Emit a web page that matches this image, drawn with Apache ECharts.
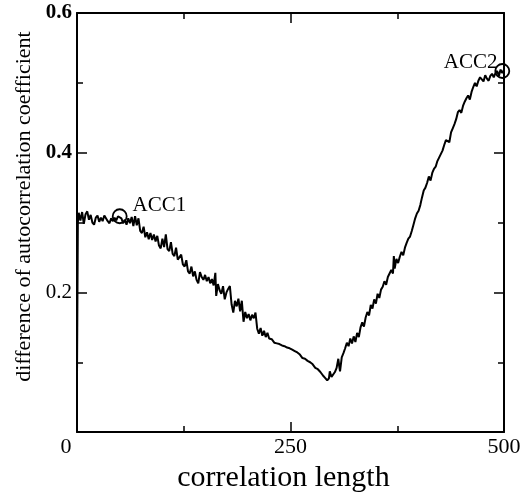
<!DOCTYPE html>
<html>
<head>
<meta charset="utf-8">
<script src="https://cdn.jsdelivr.net/npm/echarts@6/dist/echarts.min.js"></script>
<style>html,body{margin:0;padding:0;background:#fff}#c{width:531px;height:498px}</style>
</head>
<body>
<div id="c"></div>
<script>
// correlation length
const xValues = [0,1,2,4,6,8,10,12,14,16,18,20,22,24,26,28,30,32,34,36,38,40,42,44,46,48,50,52,54,56,58,60,62,64,66,68,70,72,74,76,78,80,82,84,86,88,90,92,94,96,98,100,102,104,106,108,110,112,114,116,118,120,122,124,126,128,130,132,134,136,138,140,142,144,146,148,150,152,154,156,158,160,162,163,165,167,169,171,173,175,177,179,181,183,185,187,189,191,193,195,197,199,201,203,205,207,209,211,213,215,217,219,221,223,225,228,231,234,237,240,243,246,249,252,255,258,261,264,267,270,273,276,279,282,285,288,291,293,295,296,298,300,302,304,306,307,308,310,312,314,316,318,320,322,324,326,328,330,332,334,336,338,340,342,344,346,348,350,352,354,356,358,360,362,364,366,368,370,371,372,374,376,378,380,382,384,386,388,390,392,394,396,398,400,402,404,406,408,410,412,414,416,418,420,422,424,426,428,430,432,434,436,438,440,442,444,446,448,450,452,454,456,458,460,462,464,466,468,470,472,474,476,478,480,482,484,486,488,490,492,494,496,498,500];
// difference of autocorrelation coefficient
const yValues = [0.08,0.30,0.314,0.303,0.315,0.298,0.312,0.316,0.304,0.311,0.300,0.297,0.307,0.310,0.301,0.307,0.302,0.310,0.312,0.302,0.299,0.306,0.302,0.307,0.303,0.309,0.307,0.306,0.299,0.304,0.297,0.306,0.299,0.308,0.295,0.309,0.296,0.306,0.288,0.285,0.294,0.279,0.286,0.276,0.285,0.275,0.283,0.273,0.281,0.267,0.263,0.277,0.265,0.283,0.262,0.259,0.272,0.255,0.252,0.264,0.247,0.245,0.254,0.240,0.237,0.246,0.230,0.227,0.237,0.223,0.230,0.218,0.213,0.229,0.222,0.218,0.225,0.216,0.222,0.213,0.219,0.210,0.228,0.195,0.212,0.203,0.198,0.209,0.190,0.200,0.205,0.209,0.183,0.171,0.188,0.180,0.191,0.173,0.188,0.158,0.172,0.163,0.169,0.160,0.168,0.163,0.171,0.148,0.141,0.149,0.138,0.145,0.136,0.142,0.134,0.133,0.128,0.127,0.126,0.124,0.123,0.121,0.120,0.118,0.116,0.114,0.111,0.106,0.105,0.102,0.100,0.097,0.092,0.090,0.086,0.081,0.077,0.074,0.077,0.087,0.079,0.078,0.086,0.092,0.105,0.095,0.087,0.107,0.113,0.120,0.128,0.123,0.134,0.127,0.137,0.129,0.142,0.136,0.150,0.157,0.151,0.164,0.172,0.167,0.182,0.177,0.190,0.184,0.198,0.192,0.204,0.208,0.216,0.211,0.222,0.221,0.232,0.227,0.252,0.234,0.248,0.242,0.251,0.258,0.253,0.264,0.271,0.277,0.280,0.288,0.297,0.306,0.313,0.317,0.325,0.336,0.346,0.350,0.357,0.366,0.360,0.371,0.377,0.380,0.388,0.393,0.398,0.403,0.411,0.418,0.420,0.415,0.429,0.435,0.441,0.448,0.458,0.461,0.457,0.467,0.473,0.478,0.482,0.476,0.487,0.494,0.500,0.495,0.503,0.508,0.509,0.502,0.511,0.506,0.503,0.510,0.513,0.508,0.514,0.517,0.510,0.519,0.514,0.519];
// marked points
const markerX = [50, 498];
const markerY = [0.309, 0.517];
const markerLabels = ['ACC1', 'ACC2'];
// axis ticks
const xTicks = [0, 250, 500];
const yTicks = [0.2, 0.4, 0.6];

const FONT = '"Liberation Serif","Times New Roman",serif';
const chart = echarts.init(document.getElementById('c'), null, {renderer: 'canvas'});

const lineData = xValues.map((x, i) => [x, yValues[i]]);
const lblStyle = {show: true, fontFamily: FONT, fontSize: 21, color: '#000', textBorderWidth: 0};
const markerData = markerX.map((x, i) => ({
  value: [x, markerY[i]],
  label: i === 0
    ? Object.assign({}, lblStyle, {formatter: markerLabels[i], position: 'right', distance: 5, offset: [0, -11]})
    : Object.assign({}, lblStyle, {formatter: markerLabels[i], position: 'left', distance: -3, offset: [0, -8]})
}));

const axisLineStyle = {color: '#000', width: 2};
const baseX = {
  type: 'value', min: 0, max: 500, interval: 250,
  axisLine: {show: true, onZero: false, lineStyle: axisLineStyle},
  axisTick: {show: true, inside: true, length: 10, lineStyle: {color: '#000', width: 1.5}},
  minorTick: {show: true, splitNumber: 2, length: 6, lineStyle: {color: '#000', width: 1.5}},
  splitLine: {show: false}, minorSplitLine: {show: false}
};
const baseY = {
  type: 'value', min: 0, max: 0.6, interval: 0.2,
  axisLine: {show: true, onZero: false, lineStyle: axisLineStyle},
  axisTick: {show: true, inside: true, length: 10, lineStyle: {color: '#000', width: 1.5}},
  minorTick: {show: true, splitNumber: 2, length: 6, lineStyle: {color: '#000', width: 1.5}},
  splitLine: {show: false}, minorSplitLine: {show: false}
};

chart.setOption({
  animation: false,
  backgroundColor: '#fff',
  grid: {left: 77, right: 27, top: 13, bottom: 58, containLabel: false},
  xAxis: [
    Object.assign({}, baseX, {
      position: 'bottom',
      name: 'correlation length', nameLocation: 'middle', nameGap: 27,
      nameTextStyle: {fontFamily: FONT, fontSize: 30, color: '#000', padding: [0, 14, 0, 0]},
      axisLabel: {
        show: true, margin: 4, fontFamily: FONT, fontSize: 22, color: '#000',
        formatter: v => xTicks.includes(v) ? (v === 0 ? '{z|0}' : String(v)) : '',
        rich: {z: {fontFamily: FONT, fontSize: 22, color: '#000', padding: [0, 22, 0, 0]}}
      }
    }),
    Object.assign({}, baseX, {position: 'top', axisLabel: {show: false}})
  ],
  yAxis: [
    Object.assign({}, baseY, {
      position: 'left',
      name: 'difference of autocorrelation coefficient', nameLocation: 'middle', nameGap: 41,
      nameTextStyle: {fontFamily: FONT, fontSize: 22, color: '#000', padding: [0, 0, 0, 32]},
      axisLabel: {
        show: true, margin: 5, fontFamily: FONT, fontSize: 21, color: '#000',
        formatter: v => {
          const t = yTicks.find(k => Math.abs(k - v) < 1e-9);
          if (t === undefined) return '';
          return t === 0.2 ? '{n|' + t.toFixed(1) + '}' : '{b|' + t.toFixed(1) + '}';
        },
        rich: {
          b: {fontFamily: FONT, fontSize: 21, fontWeight: 'bold', color: '#000'},
          n: {fontFamily: FONT, fontSize: 21, color: '#000'}
        }
      }
    }),
    Object.assign({}, baseY, {position: 'right', axisLabel: {show: false}})
  ],
  series: [
    {
      type: 'line', xAxisIndex: 0, yAxisIndex: 0, data: lineData,
      showSymbol: false, symbol: 'none',
      lineStyle: {color: '#000', width: 2}, z: 3
    },
    {
      type: 'scatter', xAxisIndex: 0, yAxisIndex: 0, data: markerData,
      symbol: 'circle', symbolSize: 14,
      itemStyle: {color: 'rgba(255,255,255,0)', borderColor: '#000', borderWidth: 1.8, opacity: 1},
      emphasis: {disabled: true},
      z: 4
    }
  ]
});
</script>
</body>
</html>
